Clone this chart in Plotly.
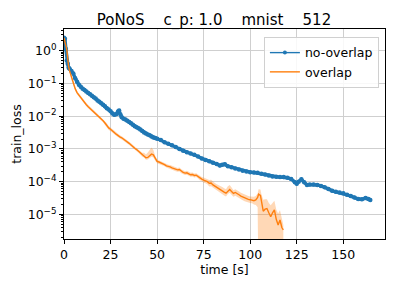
import plotly.graph_objects as go

# ---------------- data ----------------
no_overlap_time = [0, 0.5, 1, 1.5, 2, 2.5, 3,
    4, 5, 6, 7, 8, 9, 10, 11, 12, 13, 14, 15, 16, 17, 18, 19, 20, 21, 22, 23, 24, 25, 26, 27, 28, 29,
    29.6, 30.3,
    31, 32, 33, 34, 35, 36, 37, 38, 39, 40, 41, 42, 43, 44, 45, 46, 47, 48, 49, 50,
    52, 54, 56, 58, 60, 62, 64, 66, 68, 70, 72, 74, 76, 78, 80, 82,
    83.7, 85, 86.4,
    88, 90, 92, 94, 96, 98, 100, 102, 104, 106, 108, 110, 112, 114, 116, 118, 120, 122,
    124, 125, 126, 127.5, 129, 130.5,
    132, 134, 136, 138, 140, 142, 144, 146, 148, 150, 152, 154, 156, 158, 160, 162,
    163.5, 164.5]
no_overlap_log10_loss = [0.39, 0.36, 0.05, -0.30, -0.40, -0.52, -0.55,
    -0.62, -0.70, -0.84, -0.95, -1.04, -1.10, -1.16, -1.20, -1.25, -1.29, -1.33, -1.38, -1.42, -1.46,
    -1.52, -1.56, -1.61, -1.65, -1.70, -1.76, -1.80, -1.85, -1.92, -1.96, -1.94, -1.86,
    -1.83, -1.95,
    -2.03, -2.08, -2.10, -2.14, -2.18, -2.22, -2.26, -2.31, -2.34, -2.37, -2.41, -2.45, -2.50, -2.53,
    -2.56, -2.58, -2.62, -2.65, -2.67, -2.69,
    -2.73, -2.80, -2.84, -2.89, -2.94, -3.00, -3.06, -3.10, -3.14, -3.18, -3.23, -3.29, -3.34, -3.38,
    -3.42, -3.46,
    -3.51, -3.48, -3.47,
    -3.53, -3.56, -3.60, -3.63, -3.67, -3.69, -3.71, -3.72, -3.73, -3.76, -3.78, -3.81, -3.84, -3.85,
    -3.86, -3.86, -3.88, -3.92,
    -4.02, -4.06, -4.00, -3.93, -4.02, -4.10,
    -4.09, -4.09, -4.10, -4.13, -4.17, -4.22, -4.28, -4.31, -4.33, -4.35, -4.40, -4.44, -4.48, -4.53,
    -4.54, -4.50,
    -4.53, -4.56]
no_overlap_spread = [0.06, 0.06, 0.10, 0.10, 0.08, 0.06, 0.05,
    0.05, 0.05, 0.05, 0.04, 0.04, 0.04, 0.04, 0.04, 0.04, 0.04, 0.04, 0.04, 0.04, 0.04,
    0.04, 0.04, 0.04, 0.04, 0.04, 0.04, 0.04, 0.04, 0.04, 0.05, 0.06, 0.08,
    0.08, 0.05,
    0.04, 0.04, 0.04, 0.04, 0.04, 0.04, 0.04, 0.04, 0.04, 0.04, 0.04, 0.04, 0.04, 0.04,
    0.04, 0.04, 0.04, 0.04, 0.04, 0.04,
    0.04, 0.04, 0.04, 0.04, 0.04, 0.04, 0.04, 0.04, 0.04, 0.04, 0.04, 0.04, 0.04, 0.04,
    0.04, 0.05,
    0.05, 0.05, 0.05,
    0.04, 0.04, 0.04, 0.04, 0.04, 0.04, 0.04, 0.04, 0.04, 0.04, 0.04, 0.04, 0.04, 0.04,
    0.04, 0.04, 0.04, 0.05,
    0.06, 0.08, 0.07, 0.06, 0.05, 0.05,
    0.04, 0.04, 0.04, 0.04, 0.04, 0.04, 0.04, 0.04, 0.04, 0.04, 0.04, 0.05, 0.06, 0.06,
    0.06, 0.06,
    0.05, 0.05]

overlap_time = [0, 0.5, 1, 1.5, 2, 2.5, 3, 3.5,
    4, 5, 6, 7, 8, 9, 10, 11, 12, 13, 14,
    15, 16, 17, 18, 19, 20, 21, 22, 23, 24,
    25, 26, 27, 28, 29, 30, 31, 32, 33, 34,
    35, 36, 37, 38, 39, 40, 41, 42, 43, 44,
    45, 46, 47, 48, 49, 50, 51, 52, 53, 54,
    55, 56, 57, 58, 59, 60, 61, 62, 63, 64,
    65, 66, 67, 68, 69, 70, 71, 72, 73, 74,
    75, 76, 77, 78, 79, 80, 81, 82, 83, 84,
    85, 86, 87, 88, 89, 90, 91, 92, 93, 94,
    95, 96, 97, 98, 99, 100, 101, 102, 103, 104,
    104.5, 105.5, 106, 107, 108, 109, 110, 111, 112, 113, 114, 115, 116, 117, 117.8]
overlap_log10_loss = [0.39, 0.30, 0.15, 0.03, -0.30, -0.50, -0.62, -0.72,
    -0.84, -1.02, -1.16, -1.28, -1.36, -1.45, -1.52, -1.58, -1.65, -1.71, -1.76,
    -1.81, -1.87, -1.92, -1.98, -2.04, -2.09, -2.14, -2.21, -2.30, -2.36,
    -2.40, -2.44, -2.50, -2.55, -2.60, -2.63, -2.66, -2.70, -2.73, -2.78,
    -2.83, -2.88, -2.94, -2.98, -3.02, -3.07, -3.12, -3.18, -3.20, -3.27,
    -3.26, -3.22, -3.16, -3.18, -3.30, -3.38, -3.40, -3.42, -3.46, -3.48,
    -3.52, -3.53, -3.55, -3.58, -3.60, -3.62, -3.64, -3.63, -3.68, -3.72,
    -3.74, -3.73, -3.76, -3.79, -3.78, -3.81, -3.80, -3.84, -3.90, -3.92,
    -3.95, -3.97, -4.00, -4.05, -4.04, -4.10, -4.14, -4.18, -4.22, -4.26,
    -4.28, -4.32, -4.35, -4.28, -4.24, -4.30, -4.36, -4.33, -4.38, -4.40,
    -4.44, -4.47, -4.50, -4.52, -4.54, -4.55, -4.56, -4.58, -4.56, -4.48,
    -4.38, -4.42, -4.58, -4.90, -4.84, -4.82, -4.95, -5.07, -4.95, -4.86, -5.15, -5.32, -5.17, -5.40, -5.47]
overlap_band_up = [0.08, 0.10, 0.12, 0.12, 0.10, 0.08, 0.06, 0.06,
    0.05, 0.05, 0.05, 0.05, 0.05, 0.05, 0.05, 0.05, 0.05, 0.05, 0.05,
    0.05, 0.05, 0.05, 0.05, 0.05, 0.05, 0.05, 0.06, 0.08, 0.06,
    0.05, 0.05, 0.05, 0.05, 0.05, 0.05, 0.05, 0.05, 0.05, 0.05,
    0.05, 0.05, 0.05, 0.05, 0.05, 0.05, 0.05, 0.06, 0.08, 0.10,
    0.15, 0.20, 0.20, 0.15, 0.08, 0.06, 0.05, 0.05, 0.05, 0.05,
    0.05, 0.05, 0.06, 0.06, 0.06, 0.06, 0.06, 0.06, 0.06, 0.06,
    0.06, 0.06, 0.06, 0.06, 0.06, 0.06, 0.06, 0.06, 0.06, 0.06,
    0.08, 0.08, 0.08, 0.10, 0.10, 0.10, 0.10, 0.10, 0.12, 0.12,
    0.12, 0.12, 0.12, 0.14, 0.14, 0.12, 0.10, 0.10, 0.10, 0.10,
    0.10, 0.10, 0.10, 0.10, 0.10, 0.10, 0.10, 0.12, 0.12, 0.12,
    0.15, 0.18, 0.20, 0.35, 0.30, 0.28, 0.30, 0.35, 0.30, 0.28, 0.30, 0.35, 0.30, 0.25, 0.15]
overlap_band_down = [0.08, 0.10, 0.12, 0.12, 0.10, 0.08, 0.06, 0.06,
    0.05, 0.05, 0.05, 0.05, 0.05, 0.05, 0.05, 0.05, 0.05, 0.05, 0.05,
    0.05, 0.05, 0.05, 0.05, 0.05, 0.05, 0.05, 0.06, 0.06, 0.06,
    0.05, 0.05, 0.05, 0.05, 0.05, 0.05, 0.05, 0.05, 0.05, 0.05,
    0.05, 0.05, 0.05, 0.05, 0.05, 0.05, 0.05, 0.06, 0.06, 0.06,
    0.06, 0.06, 0.08, 0.08, 0.06, 0.06, 0.05, 0.05, 0.05, 0.05,
    0.05, 0.05, 0.06, 0.06, 0.06, 0.06, 0.06, 0.06, 0.06, 0.06,
    0.06, 0.06, 0.06, 0.06, 0.06, 0.06, 0.06, 0.06, 0.06, 0.06,
    0.08, 0.08, 0.08, 0.10, 0.10, 0.10, 0.10, 0.10, 0.10, 0.10,
    0.10, 0.10, 0.10, 0.10, 0.10, 0.10, 0.10, 0.10, 0.10, 0.10,
    0.10, 0.10, 0.10, 0.10, 0.10, 0.10, 0.10, 0.12, 0.15, 0.30,
    3.0, 3.0, 3.0, 3.0, 3.0, 3.0, 3.0, 3.0, 3.0, 3.0, 3.0, 3.0, 3.0, 3.0, 3.0]

x_tick_values = [0, 25, 50, 75, 100, 125, 150]
y_tick_exponents = [-5, -4, -3, -2, -1, 0]
y_tick_labels = ["10<sup>−5</sup>", "10<sup>−4</sup>", "10<sup>−3</sup>",
                 "10<sup>−2</sup>", "10<sup>−1</sup>", "10<sup>0</sup>"]
title_text = "PoNoS\u00a0\u00a0\u00a0\u00a0c_p: 1.0\u00a0\u00a0\u00a0\u00a0mnist\u00a0\u00a0\u00a0\u00a0512"

BLUE = "#1f77b4"
ORANGE = "#ff7f0e"
FONT = "DejaVu Sans"
FS = 12.5

def pow10(vals):
    return [10 ** v for v in vals]

fig = go.Figure()

# bands
nb_hi = [m + s for m, s in zip(no_overlap_log10_loss, no_overlap_spread)]
nb_lo = [m - s for m, s in zip(no_overlap_log10_loss, no_overlap_spread)]
fig.add_trace(go.Scatter(
    x=no_overlap_time + no_overlap_time[::-1],
    y=pow10(nb_hi) + pow10(nb_lo)[::-1],
    fill="toself", fillcolor="rgba(31,119,180,0.3)", line=dict(width=0),
    mode="lines", showlegend=False, hoverinfo="skip"))
ob_hi = [m + s for m, s in zip(overlap_log10_loss, overlap_band_up)]
ob_lo = [m - s for m, s in zip(overlap_log10_loss, overlap_band_down)]
fig.add_trace(go.Scatter(
    x=overlap_time + overlap_time[::-1],
    y=pow10(ob_hi) + pow10(ob_lo)[::-1],
    fill="toself", fillcolor="rgba(255,127,14,0.3)", line=dict(width=0),
    mode="lines", showlegend=False, hoverinfo="skip"))

# lines
fig.add_trace(go.Scatter(
    x=no_overlap_time, y=pow10(no_overlap_log10_loss), name="no-overlap",
    mode="lines+markers", line=dict(color=BLUE, width=3.4),
    marker=dict(color=BLUE, size=4.5), showlegend=False, legendgroup="no"))
fig.add_trace(go.Scatter(
    x=[None], y=[None], name="no-overlap", legendgroup="no",
    mode="lines+markers", line=dict(color=BLUE, width=1.4),
    marker=dict(color=BLUE, size=4)))
fig.add_trace(go.Scatter(
    x=overlap_time, y=pow10(overlap_log10_loss), name="overlap",
    mode="lines", line=dict(color=ORANGE, width=1.4)))

minor_vals = [k * 10.0 ** e for e in range(-6, 1) for k in range(2, 10)]

axis_common = dict(showline=True, linecolor="black", linewidth=1, mirror=True,
                   ticks="outside", ticklen=4, tickwidth=1, tickcolor="black",
                   showgrid=True, gridcolor="#cfcfcf", gridwidth=1, zeroline=False,
                   automargin=False,
                   tickfont=dict(family=FONT, size=FS, color="black"))

fig.update_xaxes(range=[0, 172.4], tickvals=x_tick_values,
                 title=dict(text="time [s]", font=dict(family=FONT, size=FS, color="black"),
                            standoff=3),
                 **axis_common)
fig.update_yaxes(type="log", range=[-5.75, 0.66],
                 tickvals=[10.0 ** e for e in y_tick_exponents], ticktext=y_tick_labels,
                 title=dict(text="train_loss", font=dict(family=FONT, size=FS, color="black"),
                            standoff=3),
                 minor=dict(tickvals=minor_vals, ticks="outside", ticklen=2,
                            tickcolor="black", showgrid=False),
                 **axis_common)

fig.update_layout(
    width=399, height=285, autosize=False,
    margin=dict(l=64, r=14, t=29, b=46, pad=0),
    paper_bgcolor="white", plot_bgcolor="white",
    font=dict(family=FONT, size=FS, color="black"),
    title=dict(text=title_text, x=214 / 399, xref="container", xanchor="center",
               y=1 - 20 / 285, yref="container", yanchor="middle",
               font=dict(family=FONT, size=15, color="black")),
    legend=dict(x=0.981, y=0.962, xanchor="right", yanchor="top",
                bgcolor="rgba(255,255,255,0.85)", bordercolor="#d0d0d0", borderwidth=1,
                font=dict(family=FONT, size=FS, color="black"),
                tracegroupgap=0, itemwidth=30),
    showlegend=True,
)

fig.write_html("out.html", config={"displayModeBar": False},
               post_script="document.body.style.margin='0px';")
